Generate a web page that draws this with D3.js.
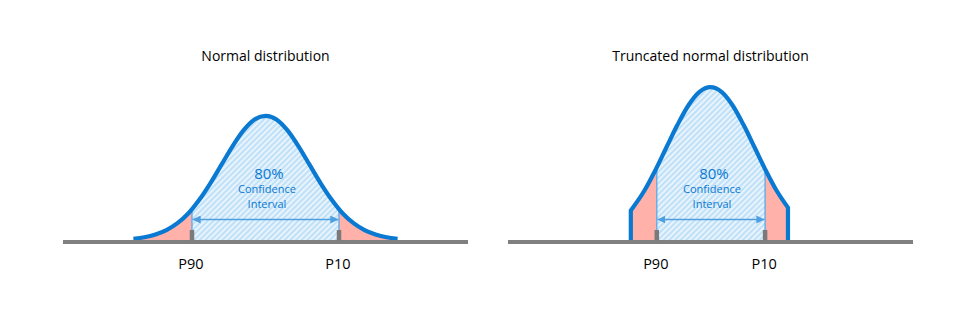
<!DOCTYPE html>
<html><head><meta charset="utf-8">
<script src="https://cdn.jsdelivr.net/npm/d3@7"></script>
<style>
html,body{margin:0;padding:0;background:#fff;}
text{font-family:"Segoe UI","Open Sans","Noto Sans",sans-serif;}
</style></head>
<body><svg id="c" width="978" height="327"></svg>
<script>
// ---- data ----
const titles = ["Normal distribution", "Truncated normal distribution"];
// left panel: normal curve (x in standard-deviation units, y density)
const normalX = [-3,-2.75,-2.5,-2.25,-2,-1.75,-1.5,-1.25,-1,-0.75,-0.5,-0.25,0,0.25,0.5,0.75,1,1.25,1.5,1.75,2,2.25,2.5,2.75,3];
const normalY = [.004,.009,.018,.032,.054,.086,.130,.183,.242,.301,.352,.387,.399,.387,.352,.301,.242,.183,.130,.086,.054,.032,.018,.009,.004];
// right panel: truncated normal curve
const truncX = [-1.81,-1.5,-1.25,-1,-0.75,-0.5,-0.25,0,0.25,0.5,0.75,1,1.25,1.5,1.76];
const truncY = [.095,.159,.225,.298,.370,.433,.476,.491,.476,.433,.370,.298,.225,.159,.104];
// percentile positions
const percentileLabels = ["P90", "P10"];
const normalPct = [-1.67, 1.67];
const truncPct = [-1.22, 1.24];
const ciLines = ["80%", "Confidence", "Interval"];

// ---- drawing ----
const svg = d3.select("#c");
const defs = svg.append("defs");
const pat = defs.append("pattern").attr("id","hatch").attr("patternUnits","userSpaceOnUse")
  .attr("width",4).attr("height",4).attr("patternTransform","rotate(45)");
pat.append("rect").attr("width",4).attr("height",4).attr("fill","#c0e0f8");
pat.append("line").attr("x1",1).attr("y1",0).attr("x2",1).attr("y2",4)
  .attr("stroke","#eff8fe").attr("stroke-width",1.7);

const mk = defs.append("marker").attr("id","arr").attr("viewBox","0 0 10 10")
  .attr("refX",10).attr("refY",5).attr("markerWidth",8).attr("markerHeight",8)
  .attr("markerUnits","userSpaceOnUse").attr("orient","auto-start-reverse");
mk.append("path").attr("d","M0,0L10,5L0,10Z").attr("fill","#4d9fe0");

const y = d3.scaleLinear().domain([0, 0.4]).range([240, 115.5]);

const panels = [
  {title: titles[0], xs: normalX, ys: normalY, pct: normalPct, range: [63, 468], trunc: false},
  {title: titles[1], xs: truncX, ys: truncY, pct: truncPct, range: [508, 913], trunc: true}
];

const blue = "#0a79d1";

panels.forEach((p, i) => {
  const x = d3.scaleLinear().domain([-4.6, 4.6]).range(p.range);
  const pts = p.xs.map((v, k) => [v, p.ys[k]]);
  const g = svg.append("g");
  const cx = x(0);

  g.append("text").attr("x", cx).attr("y", 61).attr("text-anchor","middle")
    .attr("font-size", 14).attr("fill","#000").text(p.title);

  const area = d3.area().x(d => x(d[0])).y0(y(0)).y1(d => y(d[1])).curve(d3.curveMonotoneX);
  const clipId = "clip" + i;
  defs.append("clipPath").attr("id", clipId).append("path").attr("d", area(pts));

  const fills = g.append("g").attr("clip-path", `url(#${clipId})`);
  const x0 = x(p.xs[0]), x1 = x(p.xs[p.xs.length-1]);
  const a = x(p.pct[0]), b = x(p.pct[1]);
  fills.append("rect").attr("x", x0 - 2).attr("y", 0).attr("width", a - x0 + 2).attr("height", 300).attr("fill","#ffb1aa");
  fills.append("rect").attr("x", b).attr("y", 0).attr("width", x1 - b + 2).attr("height", 300).attr("fill","#ffb1aa");
  fills.append("rect").attr("x", a).attr("y", 0).attr("width", b - a).attr("height", 300).attr("fill","url(#hatch)");
  p.pct.forEach(v => {
    fills.append("line").attr("x1", x(v)).attr("x2", x(v)).attr("y1", y(0)).attr("y2", 0)
      .attr("stroke","#5aa8e6").attr("stroke-width",1.3);
  });

  // arrow
  g.append("line").attr("x1", a + 0.7).attr("x2", b - 0.7).attr("y1", 219.5).attr("y2", 219.5)
    .attr("stroke","#4d9fe0").attr("stroke-width",1.6)
    .attr("marker-start","url(#arr)").attr("marker-end","url(#arr)");

  // CI text
  const tx = cx + 1.5;
  g.append("text").attr("x", tx + 2).attr("y", 179).attr("text-anchor","middle")
    .attr("font-size", 15).attr("fill", blue).text(ciLines[0]);
  g.append("text").attr("x", tx).attr("y", 193.3).attr("text-anchor","middle")
    .attr("font-size", 11).attr("fill", blue).text(ciLines[1]);
  g.append("text").attr("x", tx).attr("y", 207.7).attr("text-anchor","middle")
    .attr("font-size", 11).attr("fill", blue).text(ciLines[2]);

  // curve stroke
  const line = d3.line().x(d => x(d[0])).y(d => y(d[1])).curve(d3.curveMonotoneX);
  let d = line(pts);
  if (p.trunc) {
    d = `M${x0},${y(0)}L` + d.slice(1) + `L${x1},${y(0)}`;
  }
  g.append("path").attr("d", d).attr("fill","none").attr("stroke", blue)
    .attr("stroke-width", 4.2).attr("stroke-linejoin","miter");

  // baseline
  g.append("line").attr("x1", p.range[0]).attr("x2", p.range[1]).attr("y1", 242).attr("y2", 242)
    .attr("stroke","#808080").attr("stroke-width",4);

  // ticks + labels
  p.pct.forEach((v, k) => {
    g.append("line").attr("x1", x(v)).attr("x2", x(v)).attr("y1", 230).attr("y2", 240.5)
      .attr("stroke","#7a7a7a").attr("stroke-width",4.5);
    g.append("text").attr("x", x(v) - 1).attr("y", 268.5).attr("text-anchor","middle")
      .attr("font-size", 14.5).attr("fill","#000").text(percentileLabels[k]);
  });
});
</script></body></html>
